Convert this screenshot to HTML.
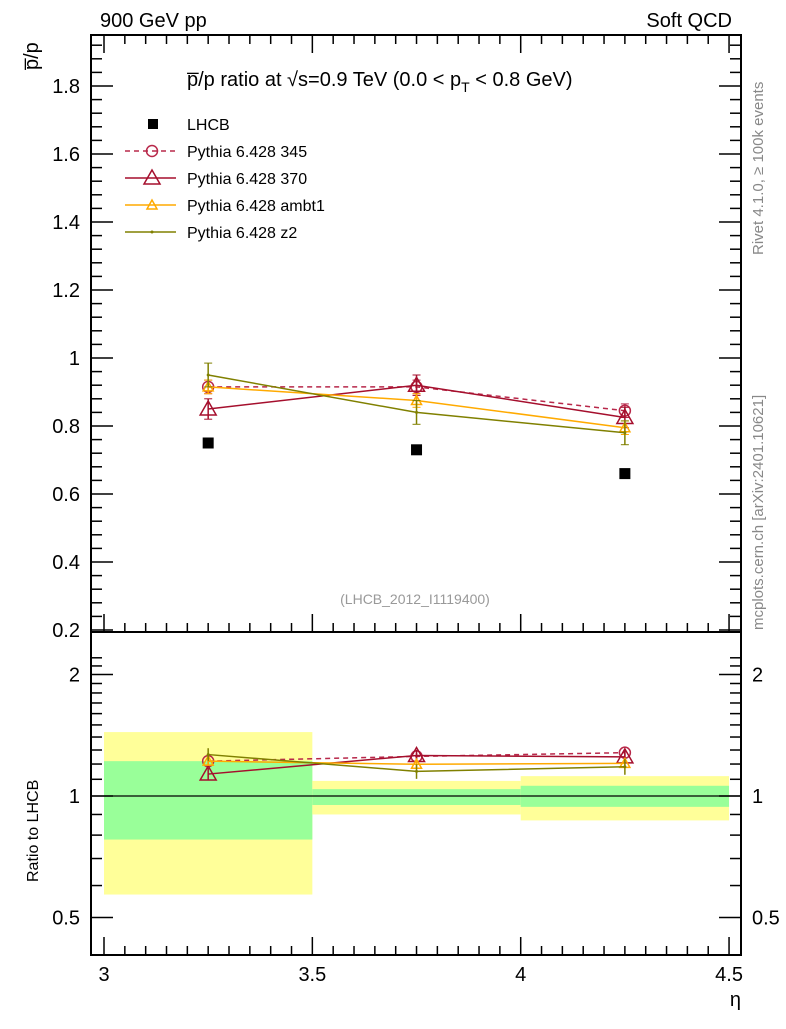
<!DOCTYPE html>
<html><head><meta charset="utf-8"><style>
body{margin:0;background:#fff}
svg text{font-family:"Liberation Sans",sans-serif}
</style></head><body>
<svg id="s" width="786" height="1024" xmlns="http://www.w3.org/2000/svg"></svg>
<script>
const L=91,R=741,T=35,M=632,B=955;
const X=v=>104+(v-3)*416.7;
const Y=v=>358-(v-1)*340;
const RY=r=>796-121.5*Math.log2(r);
let h='';
const bins=[[3,3.5,1.44,0.57,1.22,0.78],[3.5,4,1.09,0.9,1.04,0.95],[4,4.5,1.12,0.87,1.06,0.94]];
for(const b of bins){
 h+=`<rect x="${X(b[0])}" y="${RY(b[2])}" width="${X(b[1])-X(b[0])}" height="${RY(b[3])-RY(b[2])}" fill="#ffff99"/>`;
 h+=`<rect x="${X(b[0])}" y="${RY(b[4])}" width="${X(b[1])-X(b[0])}" height="${RY(b[5])-RY(b[4])}" fill="#99ff99"/>`;
}
h+=`<line x1="${L}" x2="${R}" y1="796" y2="796" stroke="#000" stroke-width="1.3"/>`;
h+=`<rect x="${L}" y="${T}" width="${R-L}" height="${M-T}" fill="none" stroke="#000" stroke-width="2"/>`;
h+=`<rect x="${L}" y="${M}" width="${R-L}" height="${B-M}" fill="none" stroke="#000" stroke-width="2"/>`;
for(let v=3;v<=4.5001;v+=0.05){const x=X(v);const maj=Math.abs(v*2-Math.round(v*2))<1e-6;const len=maj?18:9;
 for(const yb of [M,B]) h+=`<line x1="${x}" x2="${x}" y1="${yb}" y2="${yb-len}" stroke="#000" stroke-width="1.5"/>`;
 h+=`<line x1="${x}" x2="${x}" y1="${T}" y2="${T+len}" stroke="#000" stroke-width="1.5"/>`;}
[[3,'3'],[3.5,'3.5'],[4,'4'],[4.5,'4.5']].forEach(([v,t])=>h+=`<text x="${X(v)}" y="981" font-size="20" text-anchor="middle">${t}</text>`);
h+=`<text x="741" y="1006" font-size="20" text-anchor="end">η</text>`;
for(let i=0;i<=45;i++){const v=0.2+i*0.04;if(Y(v)<T+1)break;const y=Y(v);const maj=i%5==0;const len=maj?22:11;
 h+=`<line x1="${L}" x2="${L+len}" y1="${y}" y2="${y}" stroke="#000" stroke-width="1.5"/><line x1="${R}" x2="${R-len}" y1="${y}" y2="${y}" stroke="#000" stroke-width="1.5"/>`;
 if(maj){const t=(Math.round(v*10)/10).toString();h+=`<text x="80" y="${y+7}" font-size="20" text-anchor="end">${t}</text>`;}}
const rt=[];for(let r=0.4;r<=2.3;r+=0.1)rt.push(Math.round(r*10)/10);
for(const r of rt){const y=RY(r);if(y<M+2||y>B-2)continue;const maj=(r==0.5||r==1||r==2);const len=maj?22:11;
 h+=`<line x1="${L}" x2="${L+len}" y1="${y}" y2="${y}" stroke="#000" stroke-width="1.5"/><line x1="${R}" x2="${R-len}" y1="${y}" y2="${y}" stroke="#000" stroke-width="1.5"/>`;
 if(maj){h+=`<text x="80" y="${y+7}" font-size="20" text-anchor="end">${r}</text><text x="752" y="${y+7}" font-size="20">${r}</text>`;}}
const xs=[3.25,3.75,4.25];
const lh=[0.75,0.73,0.66];
const ser=[
 {c:'#b8284a',d:[0.915,0.915,0.845],e:0.02,dash:'5,4',m:'o'},
 {c:'#a50f2d',d:[0.85,0.92,0.825],e:0.03,dash:'',m:'T'},
 {c:'#ffaa00',d:[0.915,0.875,0.795],e:0.02,dash:'',m:'t'},
 {c:'#808000',d:[0.95,0.84,0.78],e:0.035,dash:'',m:'.'}];
function mk(m,c,x,y){
 if(m=='o')return `<circle cx="${x}" cy="${y}" r="5.5" fill="none" stroke="${c}" stroke-width="1.5"/>`;
 if(m=='T')return `<polygon points="${x},${y-8} ${x-8},${y+6} ${x+8},${y+6}" fill="none" stroke="${c}" stroke-width="1.5"/>`;
 if(m=='t')return `<polygon points="${x},${y-5} ${x-5},${y+4} ${x+5},${y+4}" fill="none" stroke="${c}" stroke-width="1.5"/>`;
 return `<circle cx="${x}" cy="${y}" r="1.5" fill="${c}"/>`;}
for(const s of ser){
 let p=s.d.map((v,i)=>`${X(xs[i])},${Y(v)}`).join(' ');
 h+=`<polyline points="${p}" fill="none" stroke="${s.c}" stroke-width="1.5" stroke-dasharray="${s.dash}"/>`;
 let q=s.d.map((v,i)=>`${X(xs[i])},${RY(v/lh[i])}`).join(' ');
 h+=`<polyline points="${q}" fill="none" stroke="${s.c}" stroke-width="1.5" stroke-dasharray="${s.dash}"/>`;
 s.d.forEach((v,i)=>{const x=X(xs[i]);
  const y1=Y(v+s.e),y2=Y(v-s.e);
  h+=`<line x1="${x}" x2="${x}" y1="${y1}" y2="${y2}" stroke="${s.c}" stroke-width="1.5"/><line x1="${x-4}" x2="${x+4}" y1="${y1}" y2="${y1}" stroke="${s.c}"/><line x1="${x-4}" x2="${x+4}" y1="${y2}" y2="${y2}" stroke="${s.c}"/>`;
  const r=v/lh[i],ry1=RY((v+s.e)/lh[i]),ry2=RY((v-s.e)/lh[i]);
  h+=`<line x1="${x}" x2="${x}" y1="${ry1}" y2="${ry2}" stroke="${s.c}" stroke-width="1.5"/>`;
  h+=mk(s.m,s.c,x,Y(v))+mk(s.m,s.c,x,RY(r));});
}
lh.forEach((v,i)=>h+=`<rect x="${X(xs[i])-5.5}" y="${Y(v)-5.5}" width="11" height="11" fill="#000"/>`);
const ly=[124,151,178,205,232];
h+=`<rect x="148" y="${ly[0]-5}" width="10" height="10" fill="#000"/><text x="187" y="${ly[0]+6}" font-size="16">LHCB</text>`;
const nm=['Pythia 6.428 345','Pythia 6.428 370','Pythia 6.428 ambt1','Pythia 6.428 z2'];
ser.forEach((s,i)=>{const y=ly[i+1];h+=`<line x1="125" x2="176" y1="${y}" y2="${y}" stroke="${s.c}" stroke-width="1.5" stroke-dasharray="${s.dash}"/>`+mk(s.m,s.c,152,y)+`<text x="187" y="${y+6}" font-size="16">${nm[i]}</text>`;});
h+=`<text x="100" y="27" font-size="20">900 GeV pp</text><text x="732" y="27" font-size="20" text-anchor="end">Soft QCD</text>`;
h+=`<text x="187" y="86" font-size="20">p̅/p ratio at √s=0.9 TeV (0.0 &lt; p<tspan font-size="14" dy="6">T</tspan><tspan dy="-6"> &lt; 0.8 GeV)</tspan></text>`;
h+=`<text x="415" y="604" font-size="14" fill="#999" text-anchor="middle">(LHCB_2012_I1119400)</text>`;
h+=`<text transform="translate(38,70) rotate(-90)" font-size="20">p̅/p</text>`;
h+=`<text transform="translate(38,882) rotate(-90)" font-size="16">Ratio to LHCB</text>`;
h+=`<text transform="translate(763,255) rotate(-90)" font-size="15" fill="#888">Rivet 4.1.0, ≥ 100k events</text>`;
h+=`<text transform="translate(763,630) rotate(-90)" font-size="15" fill="#888">mcplots.cern.ch [arXiv:2401.10621]</text>`;
document.getElementById('s').innerHTML=h;
</script>
</body></html>
